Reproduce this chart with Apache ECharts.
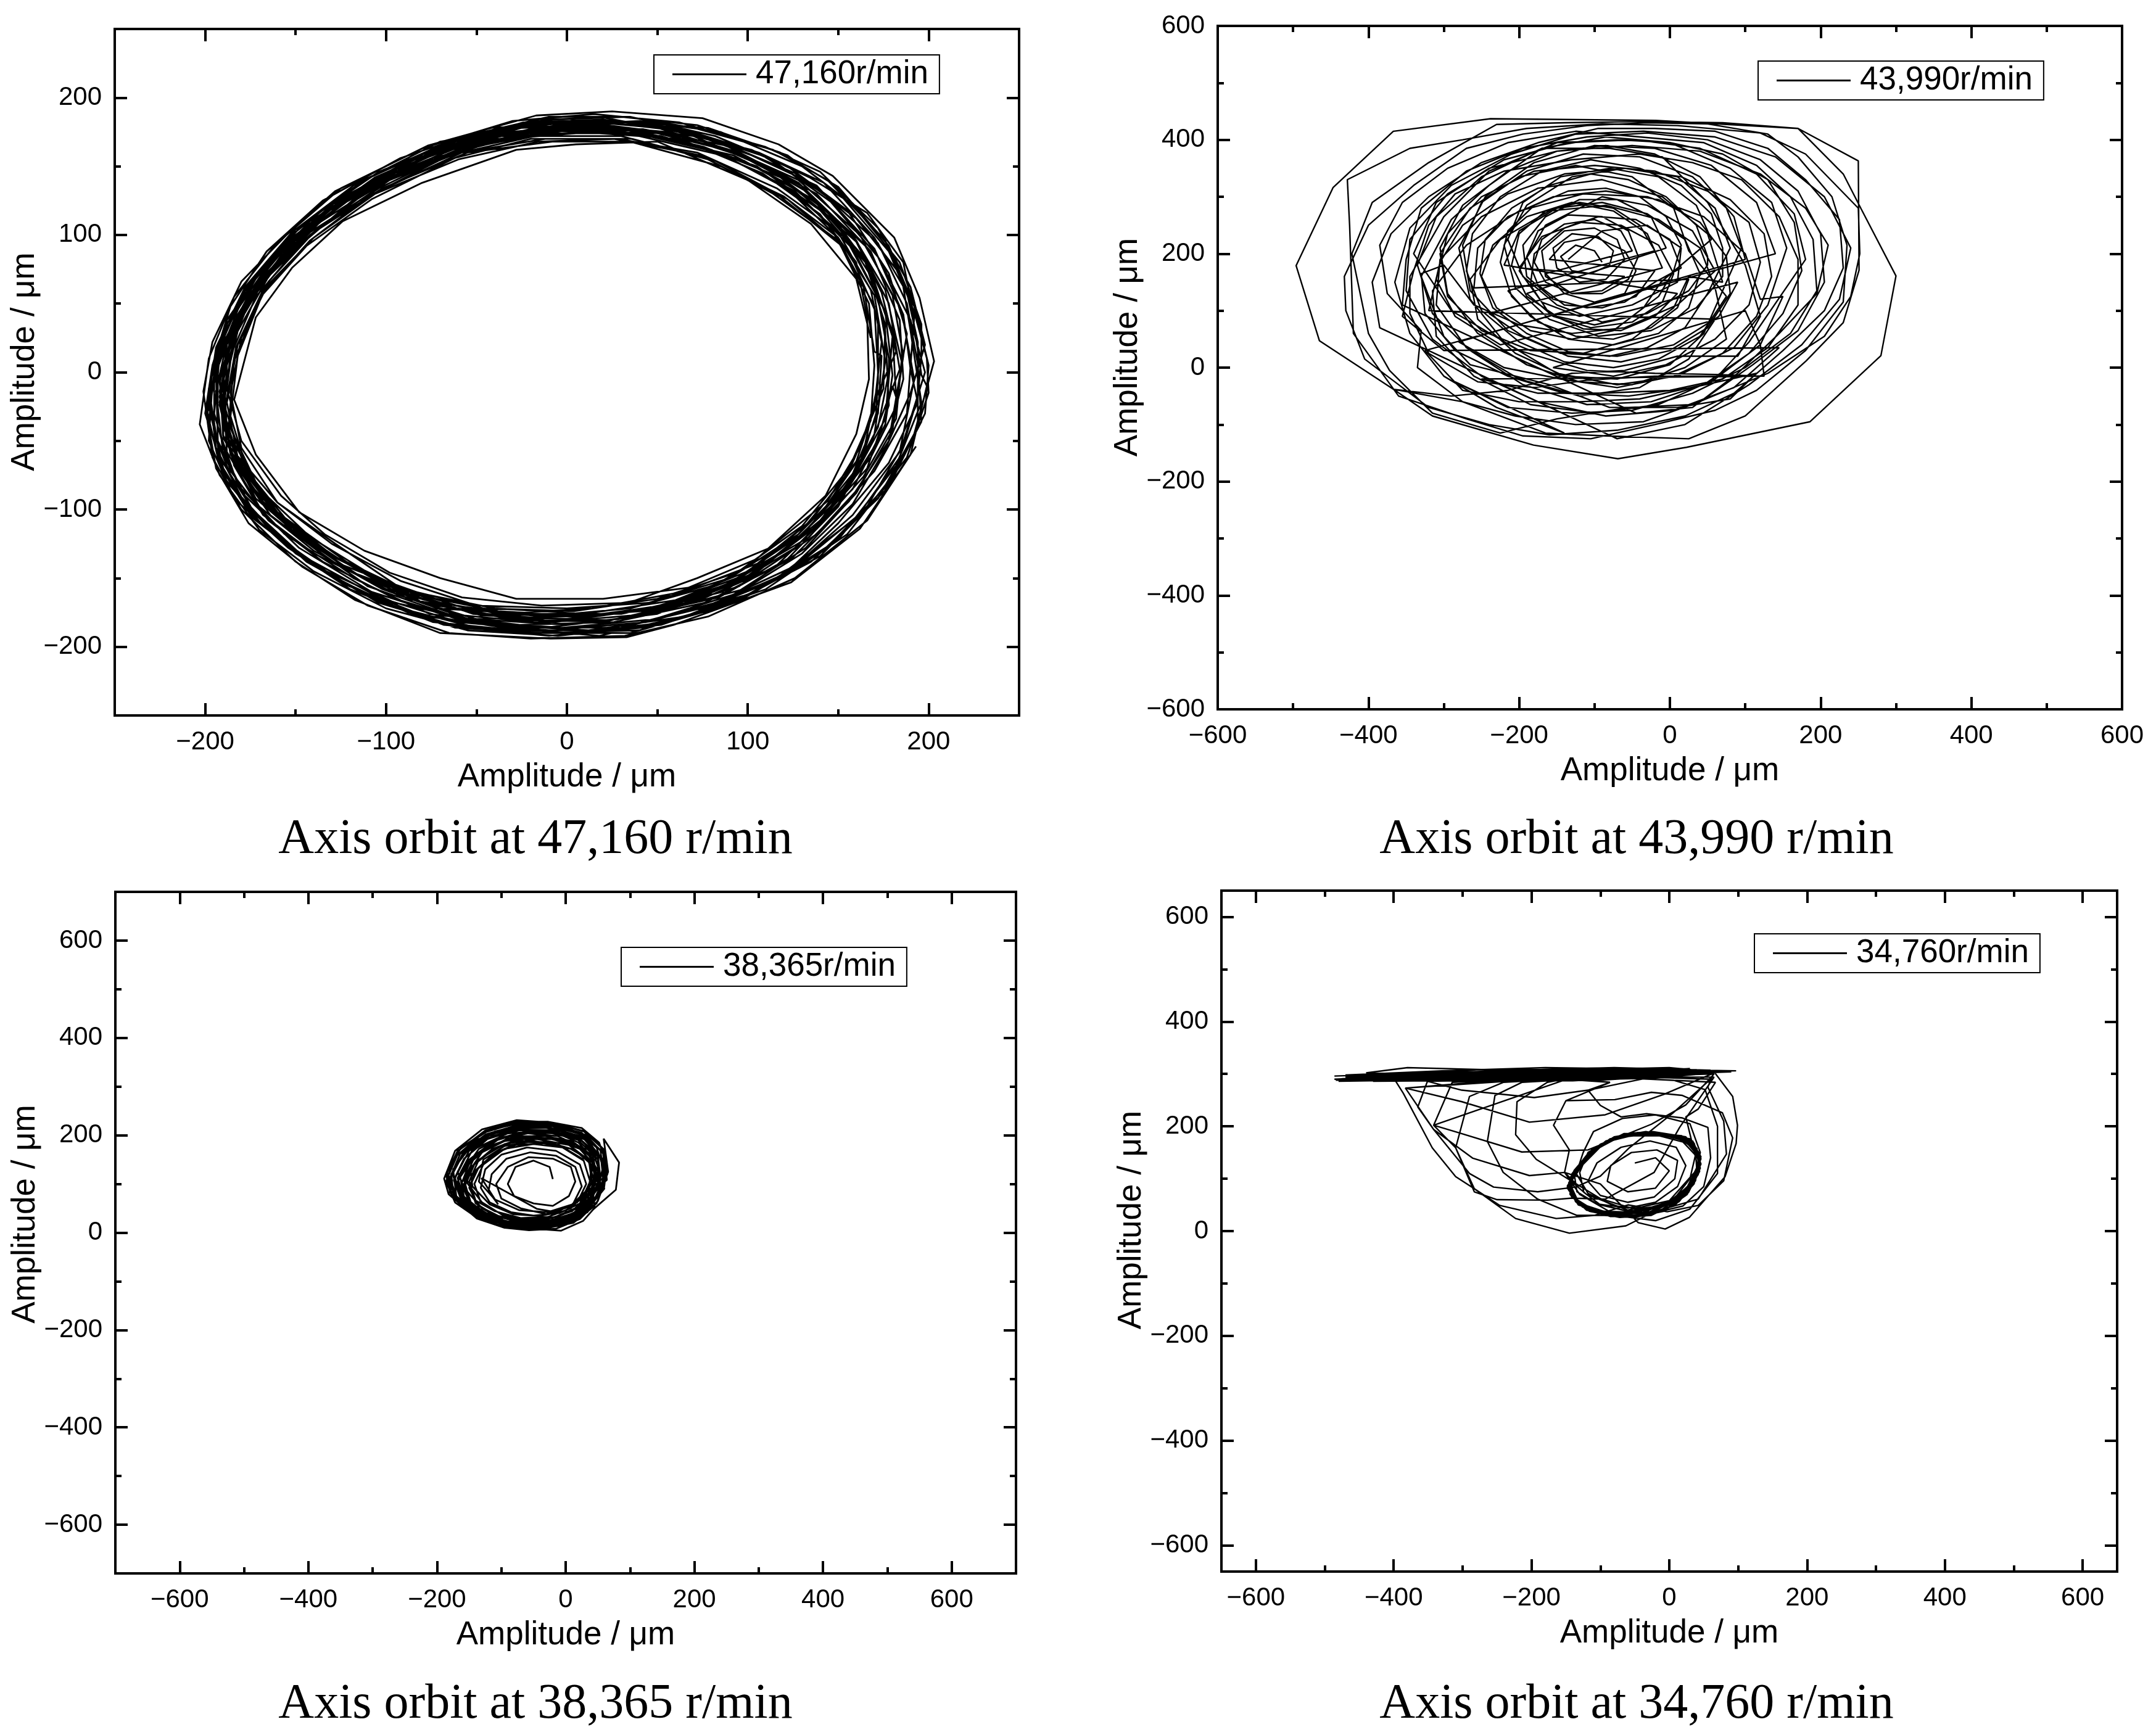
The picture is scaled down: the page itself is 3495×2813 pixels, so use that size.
<!DOCTYPE html>
<html>
<head>
<meta charset="utf-8">
<title>Axis orbit</title>
<script src="https://cdn.jsdelivr.net/npm/echarts@6/dist/echarts.min.js"></script>
<style>
html,body{margin:0;padding:0;background:#fff;}
#chart{width:3495px;height:2813px;}
</style>
</head>
<body>
<div id="chart"></div>
<script>
var speeds = ['47,160r/min', '43,990r/min', '38,365r/min', '34,760r/min'];
var captions = ['Axis orbit at 47,160 r/min', 'Axis orbit at 43,990 r/min', 'Axis orbit at 38,365 r/min', 'Axis orbit at 34,760 r/min'];
var axisTitle = 'Amplitude / μm';

var majorTicks47160 = [-200, -100, 0, 100, 200];
var minorTicks47160 = [-150, -50, 50, 150];
var majorTicks43990 = [-600, -400, -200, 0, 200, 400, 600];
var minorTicks43990 = [-500, -300, -100, 100, 300, 500];
var majorTicks38365 = [-600, -400, -200, 0, 200, 400, 600];
var minorTicks38365 = [-500, -300, -100, 100, 300, 500];
var majorTicks34760 = [-600, -400, -200, 0, 200, 400, 600];
var minorTicks34760 = [-500, -300, -100, 100, 300, 500];

var orbit47160 = [
[168,25],[160,68],[135,108],[100,140],[50,168],[5,166],[-28,162],[-80,138],[-124,110],[-152,76],[-172,40],[-184,-20],[-172,-60],[-148,-102],[-112,-130],[-70,-150],[-28,-165],[20,-165],[67,-157],[105,-136],[143,-90],[160,-45],[167,-5],
[166,40],[160,80],[140,115],[108,145],[66,168],[20,176],[-26,172],[-74,156],[-116,128],[-148,92],[-172,55],[-186,12],[-190,-28],[-180,-70],[-158,-108],[-126,-136],[-88,-165],[-44,-176],[8,-178],[54,-170],[98,-152],[132,-116],[158,-74],[172,-30],[174,12],
[170,15],[164,62],[148,100],[120,128],[85,150],[35,168],[-8,168],[-55,160],[-102,134],[-140,102],[-165,66],[-180,25],[-186,-15],[-180,-55],[-160,-95],[-130,-125],[-92,-152],[-50,-170],[0,-172],[45,-168],[90,-150],[128,-118],[155,-75],[168,-35],
[170,5],[167,50],[150,96],[114,130],[74,158],[26,170],[-20,170],[-62,156],[-108,126],[-144,92],[-170,54],[-184,8],[-187,-38],[-172,-80],[-150,-116],[-118,-146],[-78,-166],[-34,-176],[14,-172],[64,-160],[108,-138],[142,-100],[164,-58],
[172,-8],[172,40],[156,88],[122,126],[82,154],[36,170],[-12,170],[-58,160],[-104,132],[-140,98],[-168,60],[-183,18],[-189,-26],[-178,-70],[-156,-106],[-122,-138],[-84,-162],[-38,-174],[12,-178],[62,-168],[104,-146],[138,-112],[162,-68],[171,-30],
[172,0],[170,48],[152,92],[118,128],[78,155],[30,172],[-18,172],[-65,158],[-110,128],[-142,96],[-168,58],[-182,12],[-186,-32],[-176,-75],[-155,-112],[-125,-140],[-85,-160],[-40,-172],[10,-176],[60,-166],[100,-145],[135,-108],[160,-65],[170,-25],
[174,22],[168,60],[150,102],[116,134],[72,160],[28,170],[-16,168],[-60,155],[-106,130],[-140,98],[-166,62],[-182,20],[-188,-22],[-182,-62],[-160,-102],[-128,-135],[-90,-158],[-46,-172],[4,-174],[50,-165],[94,-146],[130,-112],[156,-70],[170,-28],
[175,-12],[176,35],[165,80],[140,118],[105,150],[60,170],[15,175],[-35,170],[-85,150],[-125,122],[-158,85],[-178,48],[-188,5],[-190,-40],[-175,-82],[-150,-118],[-115,-148],[-72,-172],[-22,-176],[30,-176],[78,-162],[120,-130],[152,-90],[170,-45],
[176,8],[170,56],[150,98],[120,136],[80,162],[34,176],[-14,176],[-60,162],[-104,134],[-142,102],[-170,66],[-186,22],[-192,-22],[-184,-66],[-164,-104],[-130,-138],[-94,-162],[-50,-180],[0,-184],[50,-176],[96,-152],[136,-114],[166,-70],[178,-24],
[176,30],[168,75],[146,115],[112,148],[70,172],[22,180],[-25,178],[-72,160],[-118,130],[-152,92],[-176,50],[-190,5],[-188,-42],[-170,-85],[-142,-120],[-105,-150],[-62,-170],[-15,-178],[35,-172],[82,-155],[125,-122],[155,-82],[172,-40],[178,0],
[178,10],[172,54],[154,98],[124,132],[84,160],[38,174],[-6,174],[-48,166],[-96,142],[-136,110],[-164,72],[-182,30],[-190,-14],[-188,-58],[-170,-98],[-140,-130],[-102,-158],[-54,-180],[-6,-178],[42,-174],[86,-160],[126,-128],[158,-85],[176,-38],
[180,-2],[176,44],[158,90],[126,132],[86,158],[40,172],[-4,176],[-52,164],[-98,140],[-136,106],[-166,70],[-184,30],[-192,-14],[-186,-60],[-166,-98],[-136,-130],[-96,-156],[-52,-176],[-2,-180],[48,-172],[94,-150],[130,-118],[158,-78],[176,-34],
[180,26],[170,66],[150,108],[118,142],[76,164],[32,178],[-14,179],[-60,165],[-104,138],[-142,100],[-170,64],[-184,28],[-188,-12],[-180,-50],[-158,-90],[-134,-118],[-98,-146],[-58,-164],[-14,-170],[34,-168],[72,-150],[112,-128],[144,-94],[162,-55],[172,-15],
[182,15],[174,58],[160,95],[125,135],[92,158],[46,172],[2,178],[-45,172],[-95,145],[-135,115],[-165,78],[-184,35],[-192,-8],[-186,-55],[-160,-95],[-128,-125],[-80,-168],[-30,-180],[20,-182],[75,-165],[115,-142],[148,-100],[172,-50],[180,-10],
[182,-18],[180,30],[164,84],[136,126],[98,154],[52,172],[10,178],[-36,172],[-86,154],[-126,126],[-158,90],[-180,46],[-190,0],[-190,-46],[-172,-92],[-144,-124],[-110,-156],[-66,-176],[-18,-182],[28,-180],[84,-164],[122,-136],[150,-98],[168,-52],
[184,2],[178,50],[160,96],[130,134],[90,162],[44,176],[-2,178],[-46,172],[-94,148],[-134,116],[-164,80],[-182,40],[-192,-4],[-190,-48],[-170,-92],[-140,-126],[-100,-154],[-56,-172],[-6,-182],[46,-172],[90,-154],[134,-120],[164,-76],[182,-34],
[185,8],[176,60],[158,100],[128,138],[88,165],[42,177],[0,176],[-50,168],[-100,140],[-138,108],[-168,70],[-186,25],[-192,-18],[-183,-62],[-163,-100],[-132,-132],[-92,-160],[-48,-177],[5,-180],[58,-170],[103,-148],[140,-108],[168,-62],[182,-25],
[186,-5],[184,38],[168,88],[138,130],[100,156],[55,175],[12,180],[-32,178],[-82,158],[-122,128],[-156,90],[-180,52],[-192,12],[-195,-30],[-186,-72],[-165,-108],[-135,-138],[-95,-165],[-52,-182],[-2,-186],[48,-180],[92,-162],[132,-128],[160,-88],[180,-42],
[186,12],[180,56],[162,100],[128,140],[94,160],[50,174],[6,180],[-38,174],[-88,154],[-128,124],[-160,88],[-182,46],[-193,6],[-193,-40],[-182,-82],[-156,-118],[-118,-150],[-76,-176],[-26,-184],[26,-182],[76,-168],[124,-136],[156,-94],[178,-50],
[188,28],[178,72],[155,118],[122,150],[82,172],[35,186],[-8,184],[-58,170],[-106,142],[-145,105],[-172,62],[-190,20],[-198,-25],[-190,-70],[-172,-108],[-138,-142],[-95,-168],[-40,-184],[12,-188],[65,-178],[118,-150],[150,-110],[178,-66],[194,-22],
[190,2],[186,42],[170,90],[138,136],[102,158],[60,178],[14,182],[-28,180],[-78,160],[-120,130],[-156,94],[-180,56],[-194,12],[-198,-36],[-190,-76],[-168,-112],[-136,-144],[-98,-170],[-50,-186],[4,-190],[56,-182],[104,-160],[150,-122],[182,-68],[196,-22],
[190,30],[185,70],[160,112],[126,145],[90,165],[44,182],[4,182],[-42,178],[-92,156],[-135,125],[-166,88],[-186,48],[-196,5],[-200,-30],[-188,-80],[-162,-118],[-128,-150],[-88,-175],[-35,-186],[18,-192],[70,-176],[122,-146],[158,-104],[184,-58],
[192,-5],[185,45],[165,92],[132,132],[95,160],[50,178],[8,183],[-40,176],[-90,152],[-130,122],[-162,84],[-182,42],[-194,0],[-193,-50],[-178,-90],[-148,-128],[-108,-160],[-60,-180],[-12,-186],[40,-178],[95,-156],[138,-118],[170,-72],[188,-30],
[192,40],[186,80],[166,116],[134,142],[102,162],[58,176],[18,186],[-26,178],[-70,168],[-118,136],[-152,100],[-178,60],[-192,18],[-197,-20],[-192,-62],[-172,-104],[-144,-138],[-106,-166],[-62,-186],[-14,-190],[40,-188],[92,-168],[140,-134],[176,-86],[196,-36],
[194,6],[188,50],[172,94],[142,130],[108,158],[64,176],[20,184],[-24,182],[-72,164],[-116,138],[-152,102],[-178,62],[-194,18],[-199,-28],[-192,-68],[-174,-106],[-142,-138],[-104,-168],[-58,-186],[-10,-192],[42,-186],[96,-166],[142,-130],[176,-84],[194,-40],
[194,22],[188,58],[170,98],[142,138],[106,160],[62,178],[22,183],[-22,181],[-68,162],[-114,134],[-150,96],[-176,56],[-193,14],[-199,-32],[-194,-70],[-176,-110],[-146,-142],[-110,-170],[-65,-190],[-20,-194],[32,-192],[78,-178],[126,-150],[166,-108],[190,-60],[199,-10],
[196,-2],[190,52],[176,96],[144,140],[114,162],[70,178],[34,186],[-10,186],[-56,172],[-104,146],[-146,108],[-172,68],[-188,32],[-196,-8],[-198,-50],[-184,-92],[-154,-128],[-120,-158],[-74,-182],[-28,-188],[24,-188],[74,-172],[116,-150],[160,-106],[184,-62],[194,-18],
[196,12],[196,35],[184,80],[158,122],[130,150],[85,175],[40,183],[-5,180],[-52,170],[-100,145],[-142,110],[-170,72],[-188,38],[-195,-5],[-195,-45],[-182,-88],[-158,-122],[-122,-155],[-78,-178],[-25,-186],[30,-186],[82,-168],[128,-140],[165,-100],[185,-55],
[198,0],[190,38],[172,84],[146,124],[112,156],[68,175],[28,181],[-18,181],[-66,165],[-110,136],[-146,100],[-174,58],[-188,20],[-192,-24],[-184,-68],[-168,-104],[-140,-132],[-100,-158],[-56,-174],[-8,-182],[46,-176],[98,-158],[130,-132],[158,-96],[176,-56],[190,-15],
[198,20],[190,62],[172,105],[140,146],[110,164],[62,182],[15,188],[-30,183],[-80,163],[-128,132],[-160,95],[-184,55],[-198,10],[-203,-38],[-192,-75],[-170,-115],[-140,-145],[-100,-172],[-55,-188],[-5,-192],[52,-184],[110,-158],[155,-118],[188,-62],[200,-15],
[199,10],[192,44],[178,88],[152,128],[122,158],[78,178],[36,182],[-10,178],[-54,165],[-98,140],[-138,104],[-168,66],[-187,28],[-194,-14],[-190,-60],[-174,-100],[-146,-134],[-104,-164],[-60,-182],[-10,-188],[44,-182],[100,-162],[146,-126],[180,-78],[198,-30],
[200,5],[192,48],[178,92],[150,135],[118,160],[72,180],[30,186],[-12,184],[-62,170],[-112,140],[-150,104],[-176,64],[-190,30],[-198,-12],[-194,-55],[-178,-96],[-150,-132],[-112,-162],[-68,-184],[-18,-190],[35,-190],[88,-170],[135,-138],[172,-92],[192,-45],
[203,8],[195,54],[181,98],[147,143],[117,166],[75,185],[25,190],[-17,187],[-77,165],[-125,134],[-155,100],[-180,66],[-196,22],[-201,-14],[-196,-62],[-180,-100],[-150,-138],[-117,-166],[-70,-190],[-9,-194],[33,-193],[59,-184],[124,-153],[162,-114],[193,-54]
];

var orbit43990 = [
[-90,185],[-100,205],[-125,215],[-145,195],[-130,170],[-105,165],[-80,180],[-75,205],[-95,230],[-130,235],[-155,210],[-150,175],[-120,150],[-85,155],
[-60,190],[-70,225],[-100,245],[-140,240],[-170,205],[-165,160],[-130,130],[-90,130],[-55,155],[-42,195],[-55,240],[-90,265],[-135,268],[-175,240],[-190,195],[-175,145],[-140,110],[-90,105],[-45,125],[-20,170],
[-160,190],[-140,220],[-100,230],[-60,205],[-45,170],[-60,130],[-100,115],[-140,130],[-165,165],
[-50,205],[-65,240],[-100,260],[-140,252],[-170,225],[-180,185],[-165,150],[-130,130],[-90,135],[-60,160],
[-200,175],[-170,230],[-120,255],[-65,250],[-15,215],[5,165],[-10,115],[-50,80],[-105,70],[-155,90],[-190,130],
[-5,210],[-25,265],[-70,295],[-120,295],[-165,265],[-195,215],[-190,160],[-155,120],[-110,105],[-60,115],[-20,150],
[15,175],[0,225],[-45,260],[-95,265],[-140,245],[-180,200],[-185,145],[-160,95],[-115,68],[-65,65],[-20,90],[10,130],
[-220,180],[-200,240],[-150,280],[-90,290],[-30,270],[20,225],[40,165],[25,105],[-15,60],[-75,40],[-135,50],[-185,90],[-215,135],
[-20,205],[-40,250],[-75,280],[-120,290],[-165,275],[-200,235],[-210,180],[-190,125],[-150,90],[-100,75],[-50,90],[-15,125],[5,170],
[15,215],[-5,265],[-40,300],[-85,315],[-135,310],[-180,285],[-215,240],[-225,185],[-210,125],[-175,80],[-125,55],[-75,50],[-25,70],[10,105],[25,155],
[-260,140],[-255,210],[-215,265],[-155,300],[-85,310],[-15,295],[40,255],[75,195],[80,130],[50,70],[0,30],[-65,10],[-135,20],[-195,55],[-240,95],
[-10,175],[-30,235],[-75,275],[-130,290],[-190,265],[-235,215],[-250,160],[-230,105],[-185,65],[-130,50],[-75,65],[-35,105],[-12,150],
[55,225],[35,285],[-15,335],[-80,350],[-145,335],[-195,290],[-215,225],[-195,160],[-150,110],[-90,80],[-30,95],[25,135],[50,180],
[50,195],[35,250],[-5,300],[-55,330],[-105,340],[-160,320],[-210,280],[-245,225],[-252,165],[-235,105],[-190,60],[-135,28],[-80,20],[-30,35],[20,70],[50,130],
[80,210],[60,280],[10,335],[-60,350],[-130,335],[-190,285],[-220,215],[-205,140],[-160,85],[-95,55],[-25,65],[35,105],[70,160],
[70,210],[55,270],[15,320],[-40,350],[-105,365],[-170,345],[-225,300],[-262,235],[-270,170],[-250,100],[-200,45],[-140,10],[-75,0],[-15,15],[40,55],[75,125],
[25,205],[5,280],[-50,335],[-125,355],[-200,335],[-265,280],[-305,200],[-295,125],[-250,65],[-185,30],[-115,25],[-50,50],[5,105],[25,160],
[70,150],[50,235],[-10,300],[-90,330],[-175,315],[-250,265],[-305,190],[-310,110],[-270,35],[-200,-20],[-120,-50],[-40,-35],[25,15],[60,85],
[-320,100],[-305,185],[-275,250],[-215,305],[-140,340],[-60,350],[15,335],[80,295],[125,235],[135,160],[115,90],[70,25],[5,-15],[-70,-35],[-145,-20],[-220,0],[-280,45],
[100,190],[85,265],[40,335],[-20,375],[-85,390],[-150,380],[-215,345],[-275,285],[-305,210],[-295,130],[-255,60],[-190,5],[-120,-25],[-50,-30],[20,0],[75,50],
[60,140],[40,210],[-15,260],[-85,285],[-160,275],[-225,225],[-265,155],[-255,85],[-205,25],[-140,-15],[-70,-20],[0,5],[45,60],
[95,210],[75,280],[30,335],[-40,370],[-115,375],[-190,345],[-250,290],[-275,215],[-265,135],[-215,65],[-145,25],[-70,20],[5,40],[65,90],[90,150],
[-225,40],[-285,90],[-310,155],[-295,235],[-250,300],[-180,345],[-100,355],[-20,345],[50,310],[105,255],[120,185],[105,110],[60,50],[-5,5],[-75,-15],[-155,0],
[100,100],[120,40],[125,-15],[60,-15],[-20,-15],[-110,-22],[-180,-35],[-255,-25],[-320,25],[-345,95],[-345,160],[-300,265],
[-240,345],[-150,395],[-70,400],[0,395],[70,375],[130,330],[165,255],[175,170],[150,95],[105,25],[45,-30],[-40,-55],[-120,-60],[-200,-60],[-275,-40],[-325,30],
[140,200],[115,290],[55,355],[-20,385],[-100,390],[-180,360],[-245,300],[-280,210],[-265,120],[-220,45],[-150,-10],[-70,-30],[10,-15],[85,35],[130,110],
[155,210],[135,290],[80,350],[0,395],[-85,405],[-170,385],[-250,335],[-310,265],[-335,180],[-315,95],[-265,30],[-195,-30],[-110,-65],[-25,-60],[55,-25],[120,40],[150,125],
[120,120],[100,200],[45,265],[-30,300],[-115,305],[-200,275],[-270,215],[-315,135],[-310,55],[-260,-15],[-185,-65],[-100,-80],[-15,-65],[60,-20],[105,45],
[180,190],[165,270],[115,340],[40,385],[-45,400],[-135,395],[-220,365],[-295,305],[-345,225],[-350,135],[-315,50],[-250,-15],[-175,-60],[-85,-85],[5,-75],[85,-35],[145,35],
[-300,30],[-355,90],[-340,170],[-320,250],[-285,305],[-220,345],[-130,365],[-40,375],[30,360],[95,330],[145,265],[170,190],[170,110],[130,35],[70,-20],[0,-40],[-90,-45],[-175,-45],[-250,-20],
[125,-15],[60,-12],[-20,-10],[-110,-5],[-200,30],[-290,100],[-340,200],[-310,290],[-240,350],[-150,380],[-50,390],[40,380],[120,340],[180,280],[210,215],[195,130],[145,60],[90,-10],[30,-70],[-45,-80],
[-355,110],[-350,190],[-330,280],[-270,345],[-195,385],[-110,405],[-30,412],[50,400],[120,365],[170,310],[200,235],[205,150],[170,65],[110,5],[40,-60],[-35,-95],[-125,-100],[-205,-85],[-275,-60],[-335,0],
[-330,65],[-375,130],[-385,215],[-355,290],[-295,350],[-215,395],[-125,415],[-40,405],[45,395],[115,355],[160,300],[190,225],[195,135],[160,60],[100,0],[30,-45],[-50,-75],[-130,-80],[-215,-70],[-285,-25],
[-140,-115],[-230,-70],[-300,-15],[-345,60],[-365,150],[-345,245],[-290,320],[-210,375],[-125,410],[-35,415],[60,405],[140,370],[205,300],[240,210],[225,120],[175,40],[105,-30],[20,-100],[-70,-125],
[-385,70],[-395,150],[-370,235],[-320,300],[-250,360],[-175,395],[-95,420],[-20,420],[60,415],[130,385],[180,330],[225,260],[230,175],[205,100],[150,30],[85,-45],[20,-85],[-70,-110],[-160,-118],[-240,-100],[-320,-70],
[-405,15],[-430,100],[-432,160],[-400,250],[-340,320],[-270,385],[-195,410],[-110,425],[-30,430],[50,428],[130,410],[170,370],[215,300],[235,215],[230,115],[180,30],[115,-40],[60,-75],[-20,-100],[-105,-125],[-195,-120],[-270,-90],[-360,-50],
[-420,60],[-425,250],[-428,330],[-345,385],[-275,400],[-190,420],[-90,428],[10,425],[120,412],[180,375],[250,280],[252,200],[240,125],[205,55],[130,-10],[30,-65],[-55,-70],[-150,-90],[-225,-115],[-315,-80],
[-372,-5],[-400,60],[-422,200],[-395,290],[-320,360],[-230,427],[-140,430],[-40,432],[70,430],[170,420],[250,363],[251,171],[230,79],[181,12],[100,-85],[25,-125],[-85,-120],[-165,-115],[-275,-60],
[-367,-38],[-465,47],[-496,179],[-447,316],[-367,415],[-238,437],[-19,434],[170,420],[230,340],[254,278],[300,161],[280,21],[186,-95],[22,-140],[-69,-160],[-181,-136],[-315,-85],[-367,-38],
[-290,-50],[-215,-40],[-130,-10],[-60,-5],[10,20],[90,20],[120,90],[100,180],[50,290],[-10,370],[-80,385],[-170,385],[-240,320],[-290,260],[-330,160],[-300,55],[-265,5],[-160,-30],[-80,-70],[10,-70],[80,-55],
[115,-10],[30,-35],[-55,-50],[-140,-45],[-215,-15],[-285,30],[-325,95],[-330,165],[-300,180],[-260,110],[-200,75],[-130,60],[-60,70],[10,110],[60,170],[30,240],[-30,285],[-90,300],[-165,250],[-200,170],[-170,115],[-120,90],[-50,110],[10,150],[15,210],[-30,250],[-90,240],[-135,190]
];

var orbit38365 = [
[-20,110],[-25,135],[-50,148],[-78,135],[-90,100],[-80,75],[-50,60],[-20,55],[5,75],[15,105],[8,135],[-20,152],[-58,155],[-90,135],[-108,100],[-100,70],[-70,50],[-30,38],
[10,55],[25,95],[15,135],[-15,158],[-55,165],[-92,152],[-115,120],[-120,85],[-105,58],[-131,112],[-45,49],[-15,42],[18,62],[32,100],[22,140],[-15,168],[-60,175],[-100,160],[-125,130],[-132,92],[-118,62],[-85,42],[-50,35],
[-10,40],[22,60],[38,105],[28,148],[-5,175],[-50,182],[-95,172],[-128,140],[-142,100],[-132,62],[-100,38],[-60,26],[-15,32],[25,55],[45,100],[35,150],[5,180],[-45,192],[-95,182],[-135,150],[-150,105],[-140,60],[-105,32],[-60,20],[-15,25],[28,50],[50,100],
[42,152],[10,188],[-40,200],[-92,192],[-140,160],[-158,108],[-148,62],[-112,30],[-65,15],[-18,20],[30,42],[55,90],[50,150],[18,192],[-35,208],[-90,204],[-145,170],[-168,112],[-155,60],[-118,28],[-70,12],[-20,14],[28,38],[60,90],
[55,152],[25,198],[-30,215],[-85,215],[-140,190],[-175,130],[-170,75],[-135,35],[-85,14],[-35,10],[15,25],[48,60],[62,110],[58,165],[25,205],[-25,222],[-80,224],[-128,205],[-172,155],[-186,105],[-172,62],[-135,28],[-88,10],[-38,7],[12,20],[45,55],
[40,110],[36,150],[8,172],[-35,184],[-78,180],[-112,162],[-140,128],[-150,92],[-136,55],[-104,34],[-62,24],[-20,30],[18,52],[38,85],
[48,120],[42,158],[14,184],[-30,198],[-76,198],[-118,178],[-150,142],[-162,100],[-148,58],[-116,32],[-74,18],[-30,22],[12,40],[40,75],
[54,112],[50,160],[20,195],[-24,210],[-74,212],[-122,192],[-158,152],[-174,108],[-162,66],[-128,34],[-84,16],[-38,16],[6,30],[38,62],
[58,125],[54,170],[24,202],[-20,218],[-72,222],[-124,202],[-164,162],[-180,112],[-168,68],[-130,32],[-90,14],[-42,12],[4,24],[40,55],
[62,118],[58,172],[28,208],[-18,224],[-68,226],[-120,210],[-168,168],[-186,118],[-176,72],[-136,30],[-94,12],[-48,8],[0,20],[38,50],
[44,95],[44,140],[22,172],[-20,192],[-65,192],[-108,175],[-142,140],[-156,98],[-146,56],[-112,28],[-70,16],[-25,20],[14,38],[40,70],
[50,98],[50,150],[26,188],[-18,204],[-66,206],[-112,188],[-150,150],[-168,104],[-156,60],[-124,28],[-78,12],[-32,14],[10,30],[42,62],
[60,100],[58,150],[30,195],[-18,214],[-66,218],[-116,202],[-160,160],[-180,110],[-172,70],[-138,34],[-92,16],[-44,12],[2,26],[38,58],
[52,108],[50,156],[22,192],[-26,208],[-72,210],[-120,194],[-156,154],[-172,112],[-160,68],[-126,36],[-82,20],[-36,20],[8,34],[40,68],
[46,112],[44,150],[16,180],[-28,194],[-74,192],[-114,172],[-146,136],[-158,100],[-150,62],[-118,36],[-76,24],[-32,26],[10,44],[36,78],
[64,108],[60,160],[32,200],[-14,222],[-64,228],[-116,214],[-162,176],[-184,124],[-180,82],[-146,40],[-100,18],[-54,8],[-6,14],[34,42],
[56,92],[60,140],[36,188],[-10,212],[-60,222],[-110,208],[-154,170],[-178,120],[-174,76],[-142,42],[-98,20],[-50,16],[-4,24],[32,50],
[42,88],[48,132],[30,172],[-12,198],[-58,204],[-104,192],[-142,156],[-164,114],[-158,74],[-128,42],[-86,26],[-40,22],[6,32],[34,60],
[38,108],[40,140],[14,170],[-28,186],[-70,186],[-106,166],[-136,132],[-148,98],[-140,66],[-110,44],[-70,30],[-28,32],[8,50],[30,80],
[65,120],[60,170],[30,208],[-22,226],[-76,231],[-130,212],[-172,168],[-189,111],[-182,79],[-138,29],[-95,10],[-57,5],[-15,8],[22,28],[50,65],[66,125],[59,193],[83,144],[78,88],[43,48],[27,24],[-7,4],[-50,8],[-100,14],[-145,38],[-178,85],[-182,118],[-165,170],[-125,210],[-75,228],[-28,228],
[25,215],[52,185],[64,140],[60,95],[35,48],[-2,18],[-48,10],[-92,16],[-135,40],[-165,82],[-176,120],[-158,168],[-118,204],[-68,222],[-22,222],[22,205],[48,175],[58,135],[50,90],[25,48],[-10,24],[-52,18],[-95,24],[-130,50],[-158,92],[-168,125],[-150,168],[-115,198],[-70,215],[-25,215],[18,198],[42,168],[52,128],[42,85],[18,50],[-14,32],[-55,26],[-98,36],[-130,62],[-152,100],[-156,132],[-135,172],[-100,195],[-55,210],[-15,205],[20,185],[40,155],[45,115],[30,75],[0,45],[-40,34],[-82,38],[-118,58],[-145,95],[-148,130],[-130,165],[-95,188],[-52,196],[-10,192],[25,170],[42,135],[35,90],[10,58],[-28,42],[-72,46],[-110,68],[-135,105],[-128,150],[-95,178],[-50,188],[-10,180],[28,150]
];

var orbit34760 = [
[-486,296],[-300,304],[-100,310],[97,306],[-150,300],[-486,290],[-300,300],[-60,304],[80,306],[-200,296],[-484,288],[-280,296],[-60,300],[90,304],[-180,292],[-480,286],[-300,292],[-80,296],[60,300],[-250,288],[-470,298],[-330,306],[-180,312],[40,308],[-160,290],[-440,302],[-380,312],[-200,306],[0,312],[65,304],
[-420,292],[-250,295],[-40,298],[70,303],[-120,294],[-460,288],[-240,292],[-30,295],[50,302],[-110,290],[-430,286],[-220,288],[-20,292],[55,301],[-100,288],[-400,287],[-210,287],[-50,291],[40,300],[-140,287],[-380,287],[-180,289],[-30,294],[65,304],
[-100,308],[-300,302],[-450,296],[-250,306],[-80,312],[60,307],[-60,309],[-280,308],[-470,294],[-260,301],[-100,305],[30,310],[-50,306],[-230,303],[-420,298],[-200,300],[-40,302],[80,305],[-90,301],[-320,298],[-475,291],[-260,298],[-70,302],[60,306],
[-397,286],[-386,263],[-344,159],[-310,104],[-283,81],[-223,24],[-145,-4],[-63,10],[-22,37],[42,61],[83,147],[79,210],[56,275],[65,304],[-120,296],
[-383,273],[-342,194],[-310,163],[-285,139],[-203,106],[-152,112],[-100,90],[-45,16],[-6,4],[29,26],[81,104],[97,167],[99,202],[92,257],[65,304],[-100,298],
[-315,284],[-342,202],[-310,159],[-283,81],[-246,49],[-164,24],[-109,30],[-60,50],[-3,37],[42,49],[79,96],[92,178],[77,226],[19,259],[-26,265],[-79,251],[-150,249],[-168,202],[-145,155],[-152,112],[-130,70],[-85,36],[-30,32],[20,48],[50,85],[60,140],[56,198],[19,216],[-33,224],[-70,218],
[-100,240],[-118,269],[-86,284],[-150,292],
[-351,286],[-365,237],[-342,194],[-290,110],[-255,84],[-191,75],[-136,84],[-100,105],[-58,159],[5,225],[60,290],[-80,296],
[-241,284],[-290,257],[-310,159],[-283,75],[-250,60],[-177,59],[-141,63],[-93,61],[-22,112],[15,198],[65,294],[-80,294],
[-214,284],[-253,259],[-264,171],[-241,112],[-191,61],[-134,30],[-80,30],[-20,20],[30,42],[70,110],[70,200],[52,270],[6,288],[-130,296],
[-177,284],[-221,247],[-223,184],[-193,137],[-145,98],[-120,70],[-60,40],[0,58],[42,120],[24,218],[42,233],[67,284],[-60,292],
[-351,286],[-301,269],[-196,255],[-118,269],[-26,294],[-150,298],
[-383,273],[-301,247],[-203,208],[-93,222],[-8,261],[65,302],[-140,294],
[-342,202],[-306,188],[-214,151],[-118,155],[-26,204],[24,241],[65,300],[-200,294],
[-86,284],[-150,249],[-168,202],[-145,155],[-152,112],[-135,90],[-100,62],[-50,42],[0,50],[35,90],[45,150],[30,205],
[-20,222],[-68,215],[-110,190],[-125,150],[-135,110],[-118,72],[-80,48],
[-35,42],[5,58],[30,100],[38,145],[20,170],[-15,182],[-55,182],[-92,170],[-118,150],[-130,112],[-124,74],[-100,50],[-60,38],
[-15,44],[22,72],[40,115],[38,155],[12,180],[-30,185],[-78,178],[-118,148],[-142,105],[-140,65],[-112,42],[-68,32],
[-22,38],[18,65],[42,108],[42,152],[18,182],[-28,188],[-72,180],[-112,152],[-140,110],[-144,72],[-120,44],[-78,32],[-30,36],[14,60],[38,100],[44,148],[24,180],[-24,190],[-68,184],[-108,156],[-136,114],[-146,78],[-126,46],[-84,34],[-38,36],[8,58],[34,95],[46,142],[30,176],[-20,188],[-66,186],[-104,160],[-134,118],[-148,82],[-130,50],[-90,36],[-46,36],[2,54],[30,90],[46,138],[34,172],[-16,186],[-62,186],
[-100,164],[-130,122],[-148,86],[-135,55],[-96,38],[-54,36],[-6,50],[26,84],[44,132],[36,168],[-12,184],[-60,184],[-96,166],[-126,126],[-146,88],[-132,52],[-98,34],[-56,28],[-12,40],[24,74],[44,120],[38,160],[4,182],[-40,188],[-86,176],[-120,142],[-144,102],[-142,66],[-116,38],[-72,26],
[-26,30],[14,56],[38,96],[44,140],[22,174],[-22,186],[-72,182],[-112,156],[-138,116],[-146,84],[-126,46],[-86,28],[-44,28],[0,46],[30,82],[46,128],[34,168],[-8,186],[-56,188],[-100,166],[-130,126],[-144,90],[-130,50],[-94,30],[-50,26],[-8,38],[26,70],[44,114],[40,158],[10,180],[-34,190],[-80,180],[-118,148],[-142,108],[-144,70],[-120,40],[-76,28],
[-30,32],[10,52],[36,90],[45,135],[28,172],[-14,186],[-62,186],[-104,162],[-134,122],[-148,84],[-132,50],[-92,34],[-48,30],[-4,42],[28,74],[45,120],[36,164],[0,184],[-46,188],[-92,172],[-126,134],[-146,92],[-136,56],[-100,36],[-54,28],[-10,38],[24,68],[42,110],[42,150],[14,180],[-30,186],[-76,178],[-114,150],[-138,110],[-134,75],[-105,52],[-60,44],
[-20,55],[12,85],[24,125],[10,160],[-28,172],[-70,160],[-105,130],[-118,95],[-100,68],[-60,55],[-22,65],[8,100],[12,135],[-18,155],[-55,150],[-85,125],[-90,95],[-60,75],[-20,82],[0,115],[-20,140],[-50,130]
];

var grids = [
	{left: 186, top: 47, width: 1466, height: 1113},
	{left: 1974, top: 42, width: 1466, height: 1108},
	{left: 187, top: 1446, width: 1460, height: 1105},
	{left: 1980, top: 1444, width: 1452, height: 1104}
];
var ranges = [250, 600, 700, 650];
var orbits = [orbit47160, orbit43990, orbit38365, orbit34760];
var majors = [majorTicks47160, majorTicks43990, majorTicks38365, majorTicks34760];
var minors = [minorTicks47160, minorTicks43990, minorTicks38365, minorTicks34760];
var lineWidths = [2.8, 2.4, 2.8, 2.4];
var legendPos = [
	{left: 1060, top: 89},
	{left: 2850, top: 99},
	{left: 1007, top: 1536},
	{left: 2844, top: 1514}
];
var captionPos = [
	{left: 868, top: 1322},
	{left: 2653, top: 1322},
	{left: 868, top: 2724},
	{left: 2653, top: 2724}
];
var nameShift = [17, 33, 30, 18];
var nameGaps = [99, 105, 99, 103];

function minusLabel(v){
	return String(v).replace('-', '\u2212');
}

// one axis per side and per tick length, so the ticks can sit on all four sides
function oneAxis(dim, g, side, values, len, labelled){
	var r = ranges[g];
	var ax = {
		type: 'value',
		gridIndex: g,
		position: side,
		min: -r,
		max: r,
		axisLine: {show: false, onZero: false},
		splitLine: {show: false},
		axisTick: {show: true, inside: true, length: len, customValues: values, lineStyle: {color: '#000', width: 4}},
		axisLabel: {show: false}
	};
	if(labelled){
		ax.axisLabel = {
			show: true,
			customValues: values,
			formatter: minusLabel,
			color: '#000',
			fontFamily: 'Liberation Sans',
			fontSize: 42,
			margin: dim == 'x' ? 22 : 21
		};
		ax.name = axisTitle;
		ax.nameLocation = 'middle';
		ax.nameGap = dim == 'x' ? 74 : nameGaps[g];
		ax.nameTextStyle = {color: '#000', fontFamily: 'Liberation Sans', fontSize: 53};
		if(dim == 'y'){
			ax.nameTextStyle.padding = [0, 0, 0, nameShift[g] * 2];
		}
	}
	return ax;
}

var xAxes = [], yAxes = [], series = [], legends = [], titles = [], gridList = [];

for(var g = 0; g < 4; g++){
	gridList.push({
		left: grids[g].left,
		top: grids[g].top,
		width: grids[g].width,
		height: grids[g].height,
		show: true,
		borderColor: '#000',
		borderWidth: 4,
		outerBoundsMode: 'none'
	});
	var xIndex = xAxes.length, yIndex = yAxes.length;
	xAxes.push(oneAxis('x', g, 'bottom', majors[g], 20, true));
	xAxes.push(oneAxis('x', g, 'bottom', minors[g], 10, false));
	xAxes.push(oneAxis('x', g, 'top', majors[g], 20, false));
	xAxes.push(oneAxis('x', g, 'top', minors[g], 10, false));
	yAxes.push(oneAxis('y', g, 'left', majors[g], 20, true));
	yAxes.push(oneAxis('y', g, 'left', minors[g], 10, false));
	yAxes.push(oneAxis('y', g, 'right', majors[g], 20, false));
	yAxes.push(oneAxis('y', g, 'right', minors[g], 10, false));

	series.push({
		name: speeds[g],
		type: 'line',
		xAxisIndex: xIndex,
		yAxisIndex: yIndex,
		data: orbits[g],
		showSymbol: false,
		symbol: 'none',
		smooth: false,
		sampling: false,
		animation: false,
		lineStyle: {color: '#000', width: lineWidths[g]},
		itemStyle: {color: '#000'}
	});
	legends.push({
		data: [{name: speeds[g], icon: 'rect'}],
		left: legendPos[g].left,
		top: legendPos[g].top,
		orient: 'horizontal',
		padding: [5, 18, 5, 30],
		borderColor: '#000',
		borderWidth: 2,
		itemWidth: 120,
		itemHeight: 3,
		selectedMode: false,
		itemStyle: {color: '#000', borderWidth: 0},
		textStyle: {color: '#000', fontFamily: 'Liberation Sans', fontSize: 53, padding: [0, 0, 0, 10]}
	});
	titles.push({
		text: captions[g],
		left: captionPos[g].left,
		top: captionPos[g].top,
		textAlign: 'center',
		padding: 0,
		textStyle: {color: '#000', fontFamily: 'Liberation Serif', fontSize: 80, fontWeight: 'normal'}
	});
}

var ec = echarts.init(document.getElementById('chart'));
ec.setOption({
	backgroundColor: '#fff',
	animation: false,
	title: titles,
	legend: legends,
	grid: gridList,
	xAxis: xAxes,
	yAxis: yAxes,
	series: series
});
</script>
</body>
</html>
